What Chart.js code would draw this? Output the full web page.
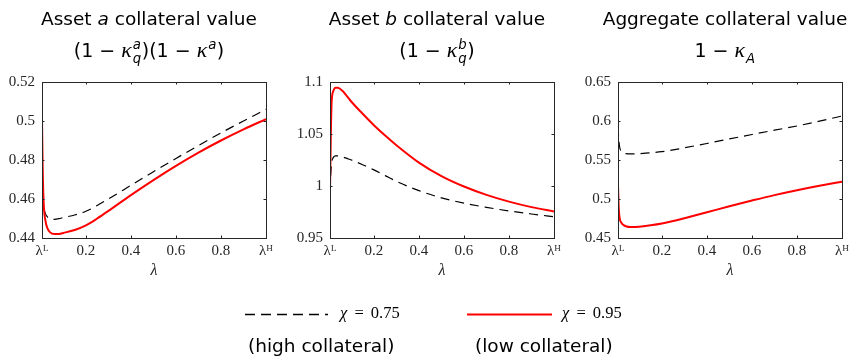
<!DOCTYPE html>
<html>
<head>
<meta charset="utf-8">
<script src="https://cdn.jsdelivr.net/npm/chart.js@4.4.1/dist/chart.umd.min.js"></script>
<style>
  body { margin: 0; background: #fff; }
  #fig { position: relative; width: 850px; height: 357px; overflow: hidden; background: #fff; }
  #fig canvas { position: absolute; top: 0; }
  .leg { position: absolute; font-family: "Liberation Serif", serif; font-size: 16.5px; line-height: 1; color: #000; white-space: nowrap; word-spacing: 3px; }
  .note { position: absolute; font-family: "DejaVu Sans", sans-serif; font-size: 18.5px; line-height: 1; color: #000; white-space: nowrap; }
</style>
</head>
<body>
<div id="fig">
  <canvas id="c1" width="288" height="290" style="left:0"></canvas>
  <canvas id="c2" width="288" height="290" style="left:288px"></canvas>
  <canvas id="c3" width="274" height="290" style="left:576px"></canvas>
  <svg style="position:absolute;left:0;top:0" width="850" height="357">
    <line x1="245" y1="314.5" x2="328" y2="314.5" stroke="#000" stroke-width="1.3" stroke-dasharray="10 6"/>
    <line x1="467" y1="314.5" x2="552" y2="314.5" stroke="#ff0000" stroke-width="2"/>
  </svg>
  <div class="leg" style="left:340px;top:305px"><i>χ</i> = 0.75</div>
  <div class="leg" style="left:562px;top:305px"><i>χ</i> = 0.95</div>
  <div class="note" style="left:248px;top:337px">(high collateral)</div>
  <div class="note" style="left:475px;top:337px">(low collateral)</div>
</div>
<script>
// lambda grid and end points
var lamL = 0.005, lamH = 1.0;
var lam = [0.005, 0.008, 0.012, 0.02, 0.03, 0.04, 0.06, 0.08, 0.1, 0.15, 0.2, 0.25, 0.3, 0.4, 0.5, 0.6, 0.7, 0.8, 0.9, 1.0];
var xTicks = [lamL, 0.2, 0.4, 0.6, 0.8, lamH];

// asset a: (1-kappa_q^a)(1-kappa^a)
var aHigh = [0.470, 0.462, 0.4565, 0.4525, 0.4507, 0.4499, 0.4496, 0.4499, 0.4505, 0.4518, 0.4537, 0.4567, 0.4600, 0.4670, 0.4740, 0.4808, 0.4874, 0.4939, 0.5000, 0.5060];
var aLow  = [0.5005, 0.476, 0.459, 0.4490, 0.4448, 0.4430, 0.4420, 0.4421, 0.4426, 0.4441, 0.4465, 0.4500, 0.4539, 0.4620, 0.4697, 0.4770, 0.4838, 0.4900, 0.4957, 0.5010];
// asset b: (1-kappa_q^b)
var bHigh = [0.9955, 1.010, 1.022, 1.0275, 1.0290, 1.0290, 1.0280, 1.0265, 1.0250, 1.0205, 1.0155, 1.0100, 1.0045, 0.9955, 0.9886, 0.9835, 0.9795, 0.9760, 0.9731, 0.9705];
var bLow  = [0.9955, 1.040, 1.080, 1.0915, 1.0945, 1.0945, 1.0915, 1.0865, 1.0810, 1.0695, 1.0585, 1.0485, 1.0392, 1.0225, 1.0095, 0.9995, 0.9915, 0.9850, 0.9797, 0.9755];
// aggregate: 1-kappa_A
var aggHigh = [0.5927, 0.578, 0.567, 0.561, 0.5590, 0.5582, 0.5578, 0.5579, 0.5582, 0.5592, 0.5607, 0.5630, 0.5656, 0.5712, 0.5770, 0.5827, 0.5882, 0.5936, 0.5998, 0.6064];
var aggLow  = [0.518, 0.490, 0.476, 0.4695, 0.4665, 0.4650, 0.4640, 0.4640, 0.4645, 0.4662, 0.4685, 0.4717, 0.4754, 0.4830, 0.4907, 0.4980, 0.5050, 0.5113, 0.5170, 0.5222];

var yTicksA = [0.44, 0.46, 0.48, 0.5, 0.52];
var yTicksB = [0.95, 1, 1.05, 1.1];
var yTicksAgg = [0.45, 0.5, 0.55, 0.6, 0.65];
var seriesLabels = ['χ = 0.75', 'χ = 0.95'];

var axisColor = '#262626';
var tickFont = { family: 'Liberation Serif', size: 15 };

function partFont(f, s) {
    if (f === 'm') return 'italic ' + (s * 1.15) + 'px "Liberation Serif"';
    return (f === 'i' ? 'italic ' : '') + s + 'px "DejaVu Sans"';
}

function scriptWidth(ctx, p, size) {
    var sw = 0;
    ctx.font = partFont('i', size * 0.7);
    if (p.sup) sw = Math.max(sw, ctx.measureText(p.sup).width);
    if (p.sub) sw = Math.max(sw, ctx.measureText(p.sub).width);
    return sw ? sw + 1.5 : 0;
}

function drawRich(ctx, parts, cx, y, size) {
    var w = 0;
    parts.forEach(function(p) {
        ctx.font = partFont(p.f, size);
        w += ctx.measureText(p.t).width + scriptWidth(ctx, p, size);
    });
    var x = cx - w / 2;
    ctx.textAlign = 'left';
    ctx.textBaseline = 'alphabetic';
    ctx.fillStyle = '#000';
    parts.forEach(function(p) {
        ctx.font = partFont(p.f, size);
        ctx.fillText(p.t, x, y);
        x += ctx.measureText(p.t).width;
        var sw = scriptWidth(ctx, p, size);
        ctx.font = partFont('i', size * 0.7);
        if (p.sup) ctx.fillText(p.sup, x + 1, y - size * 0.42);
        if (p.sub) ctx.fillText(p.sub, x + 1, y + size * 0.3);
        x += sw;
    });
}

var mathTitle = {
    id: 'mathTitle',
    afterDraw: function(chart, args, opts) {
        var ctx = chart.ctx;
        var cx = (chart.chartArea.left + chart.chartArea.right) / 2 + opts.shift;
        ctx.save();
        drawRich(ctx, opts.line1, cx, 25, 18.5);
        drawRich(ctx, opts.line2, cx, 57, 19);
        ctx.restore();
    }
};

// box round the plot with small inward ticks
var boxTicks = {
    id: 'boxTicks',
    afterDraw: function(chart) {
        var ctx = chart.ctx, a = chart.chartArea;
        var x = chart.scales.x, y = chart.scales.y;
        ctx.save();
        ctx.strokeStyle = axisColor;
        ctx.lineWidth = 1;
        ctx.strokeRect(a.left + 0.5, a.top + 0.5, a.right - a.left, a.bottom - a.top);
        ctx.beginPath();
        x.ticks.forEach(function(t) {
            var px = Math.round(x.getPixelForValue(t.value)) + 0.5;
            ctx.moveTo(px, a.bottom); ctx.lineTo(px, a.bottom - 2.5);
            ctx.moveTo(px, a.top); ctx.lineTo(px, a.top + 2.5);
        });
        y.ticks.forEach(function(t) {
            var py = Math.round(y.getPixelForValue(t.value)) + 0.5;
            ctx.moveTo(a.left, py); ctx.lineTo(a.left + 2.5, py);
            ctx.moveTo(a.right, py); ctx.lineTo(a.right - 2.5, py);
        });
        ctx.stroke();
        ctx.restore();
    }
};

function pts(arr) {
    return lam.map(function(v, i) { return { x: v, y: arr[i] }; });
}

function makeChart(id, high, low, yTicks, line1, line2, rightPad) {
    var ctx = document.getElementById(id).getContext('2d');
    return new Chart(ctx, {
        type: 'line',
        data: {
            datasets: [{
                label: seriesLabels[1],
                data: pts(low),
                borderColor: '#ff0000',
                borderWidth: 2,
                pointRadius: 0,
                cubicInterpolationMode: 'monotone',
                order: 0
            }, {
                label: seriesLabels[0],
                data: pts(high),
                borderColor: '#000000',
                borderWidth: 1.2,
                borderDash: [9, 6],
                pointRadius: 0,
                cubicInterpolationMode: 'monotone',
                order: 1
            }]
        },
        options: {
            responsive: false,
            animation: false,
            layout: { padding: { top: 82, left: 0, right: rightPad, bottom: 0 } },
            plugins: {
                legend: { display: false },
                tooltip: { enabled: false },
                mathTitle: { line1: line1, line2: line2, shift: -5 }
            },
            scales: {
                x: {
                    type: 'linear',
                    min: lamL,
                    max: lamH,
                    grid: { display: false, drawTicks: false },
                    border: { display: false },
                    afterBuildTicks: function(s) {
                        s.ticks = xTicks.map(function(v) { return { value: v }; });
                    },
                    afterFit: function(s) {
                        s.height = 52;
                        s.paddingLeft = 0;
                        s.paddingRight = 0;
                    },
                    ticks: {
                        autoSkip: false,
                        maxRotation: 0,
                        padding: 4,
                        color: axisColor,
                        font: tickFont,
                        callback: function(v) {
                            if (v === lamL) return 'λᴸ';
                            if (v === lamH) return 'λᴴ';
                            return String(v);
                        }
                    },
                    title: {
                        display: true,
                        text: 'λ',
                        color: axisColor,
                        font: { family: 'Liberation Serif', size: 16, style: 'italic' },
                        padding: { top: 0, bottom: 10 }
                    }
                },
                y: {
                    min: yTicks[0],
                    max: yTicks[yTicks.length - 1],
                    grid: { display: false, drawTicks: false },
                    border: { display: false },
                    afterBuildTicks: function(s) {
                        s.ticks = yTicks.map(function(v) { return { value: v }; });
                    },
                    afterFit: function(s) {
                        s.width = 42;
                        s.paddingTop = 0;
                        s.paddingBottom = 0;
                    },
                    ticks: {
                        autoSkip: false,
                        padding: 7,
                        color: axisColor,
                        font: tickFont,
                        callback: function(v) { return String(v); }
                    }
                }
            }
        },
        plugins: [mathTitle, boxTicks]
    });
}

window.onload = function() {
    makeChart('c1', aHigh, aLow, yTicksA,
        [{ t: 'Asset ', f: 'n' }, { t: 'a', f: 'i' }, { t: ' collateral value', f: 'n' }],
        [{ t: '(1 − ', f: 'n' }, { t: 'κ', f: 'm', sup: 'a', sub: 'q' }, { t: ')(1 − ', f: 'n' }, { t: 'κ', f: 'm', sup: 'a' }, { t: ')', f: 'n' }],
        22);
    makeChart('c2', bHigh, bLow, yTicksB,
        [{ t: 'Asset ', f: 'n' }, { t: 'b', f: 'i' }, { t: ' collateral value', f: 'n' }],
        [{ t: '(1 − ', f: 'n' }, { t: 'κ', f: 'm', sup: 'b', sub: 'q' }, { t: ')', f: 'n' }],
        22);
    makeChart('c3', aggHigh, aggLow, yTicksAgg,
        [{ t: 'Aggregate collateral value', f: 'n' }],
        [{ t: '1 − ', f: 'n' }, { t: 'κ', f: 'm', sub: 'A' }],
        8);
};
</script>
</body>
</html>
